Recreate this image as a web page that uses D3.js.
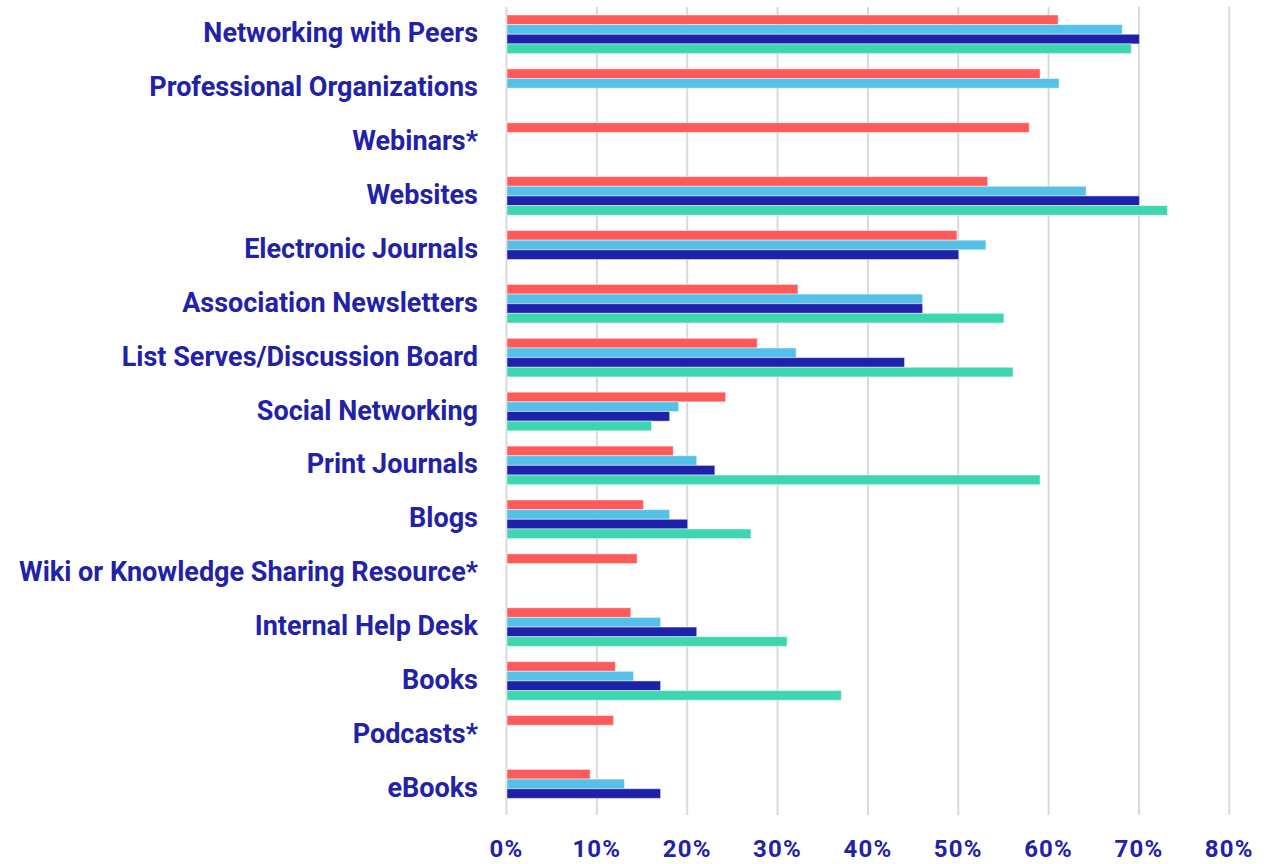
<!DOCTYPE html>
<html>
<head>
<meta charset="utf-8">
<script src="https://cdn.jsdelivr.net/npm/d3@7/dist/d3.min.js"></script>
<style>
  html, body { margin: 0; padding: 0; background: #ffffff; }
  svg { display: block; }
  text { font-family: "Roboto", "Open Sans", sans-serif; font-weight: 700; fill: #2222A8; }
</style>
</head>
<body>
<svg id="chart" width="1281" height="864"></svg>
<script>
const categories = [
  "Networking with Peers",
  "Professional Organizations",
  "Webinars*",
  "Websites",
  "Electronic Journals",
  "Association Newsletters",
  "List Serves/Discussion Board",
  "Social Networking",
  "Print Journals",
  "Blogs",
  "Wiki or Knowledge Sharing Resource*",
  "Internal Help Desk",
  "Books",
  "Podcasts*",
  "eBooks"
];
const seriesNames = ["Series 1", "Series 2", "Series 3", "Series 4"];
const seriesColors = ["#FF5A5A", "#56C1E8", "#1E22AA", "#3DD6B0"];
// values in percent; null = not asked
const series1 = [61.0, 59.0, 57.8, 53.2, 49.8, 32.2, 27.7, 24.2, 18.4, 15.1, 14.4, 13.7, 12.0, 11.8, 9.2];
const series2 = [68.1, 61.1, null, 64.1, 53.0, 46.0, 32.0, 19.0, 21.0, 18.0, null, 17.0, 14.0, null, 13.0];
const series3 = [70.0, null, null, 70.0, 50.0, 46.0, 44.0, 18.0, 23.0, 20.0, null, 21.0, 17.0, null, 17.0];
const series4 = [69.1, null, null, 73.1, null, 55.0, 56.0, 16.0, 59.0, 27.0, null, 31.0, 37.0, null, null];
const xTicks = [0, 10, 20, 30, 40, 50, 60, 70, 80];

const allSeries = [series1, series2, series3, series4];

const svg = d3.select("#chart");
const x = d3.scaleLinear().domain([0, 80]).range([506.5, 1229.3]);
const y = d3.scaleBand().domain(categories).range([7, 816]).paddingInner(0.284).paddingOuter(0.148);
const ySub = d3.scaleBand().domain(d3.range(4)).range([0, y.bandwidth()]);

// gridlines
svg.append("g").selectAll("line").data(xTicks).join("line")
  .attr("x1", d => x(d)).attr("x2", d => x(d))
  .attr("y1", 7).attr("y2", 815)
  .attr("stroke", "#d9d9d9").attr("stroke-width", 2);

// bars
const groups = svg.append("g").selectAll("g").data(categories).join("g")
  .attr("transform", d => `translate(0,${y(d)})`);
groups.each(function(cat, ci) {
  const g = d3.select(this);
  allSeries.forEach((s, si) => {
    const v = s[ci];
    if (v == null) return;
    g.append("rect")
      .attr("x", x(0) + 0.5)
      .attr("y", ySub(si))
      .attr("width", x(v) - x(0))
      .attr("height", ySub.bandwidth())
      .attr("fill", seriesColors[si])
      .attr("stroke", "rgba(255,255,255,0.45)")
      .attr("stroke-width", 1);
  });
});

// category labels
svg.append("g").selectAll("text").data(categories).join("text")
  .attr("x", 478)
  .attr("y", d => y(d) + y.bandwidth() / 2 - 1)
  .attr("text-anchor", "end")
  .attr("dominant-baseline", "central")
  .attr("font-size", 27)
  .text(d => d);

// x tick labels
svg.append("g").selectAll("text").data(xTicks).join("text")
  .attr("x", d => x(d))
  .attr("y", 857)
  .attr("text-anchor", "middle")
  .attr("font-size", 24)
  .attr("letter-spacing", 1.2)
  .text(d => d + "%");
</script>
</body>
</html>
